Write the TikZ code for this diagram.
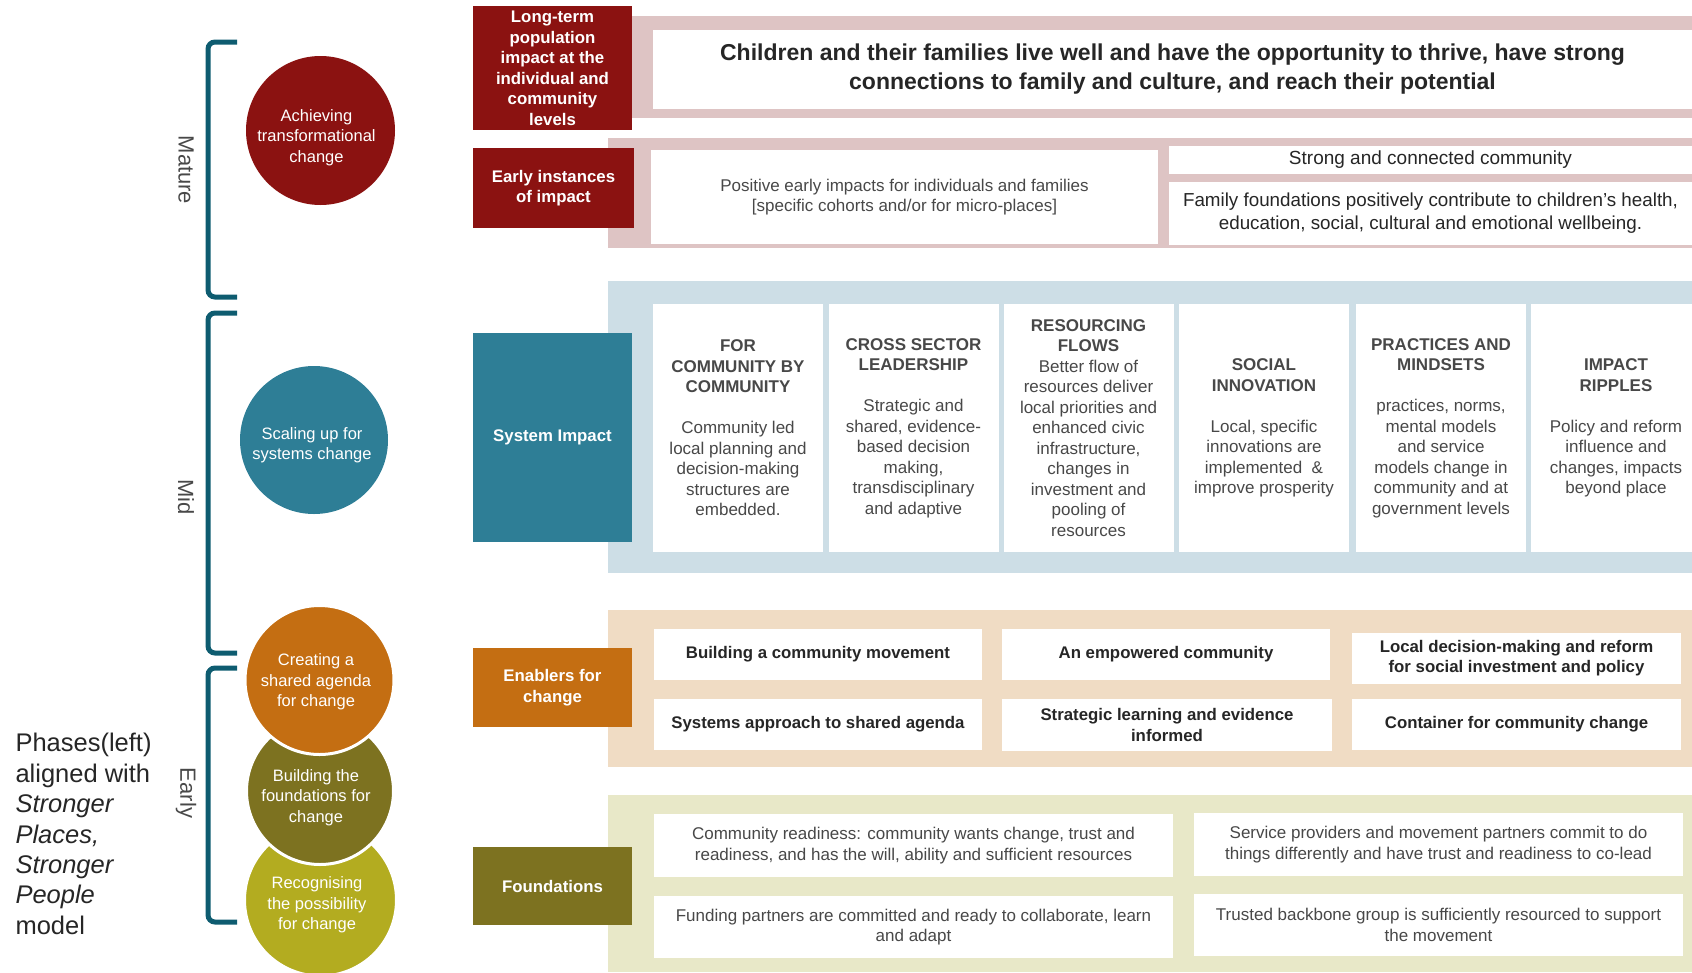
\documentclass[tikz,border=0pt]{standalone}
\usepackage{fontspec}
\setmainfont{Liberation Sans}
\usepackage{xcolor}

\definecolor{impactRed}{RGB}{139,18,17}
\definecolor{impactPink}{RGB}{222,196,196}
\definecolor{systemTeal}{RGB}{46,126,150}
\definecolor{systemBlue}{RGB}{205,222,230}
\definecolor{enableOrange}{RGB}{196,110,18}
\definecolor{enablePeach}{RGB}{240,220,196}
\definecolor{foundOlive}{RGB}{125,114,32}
\definecolor{foundGreen}{RGB}{232,232,200}
\definecolor{recogLime}{RGB}{179,172,32}
\definecolor{braceTeal}{RGB}{14,92,112}
\definecolor{bodyGray}{RGB}{72,72,72}
\definecolor{darkGray}{RGB}{38,38,38}

\begin{document}
\begin{tikzpicture}[x=1pt, y=-1pt,
		tag/.style={rectangle, fill=#1, text=white, align=center, inner sep=0pt, font=\bfseries\fontsize{16.8}{20.5}\selectfont},
		card/.style={rectangle, fill=white, text=bodyGray, align=center, inner sep=0pt, font=\fontsize{17}{20.5}\selectfont},
		boldcard/.style={card, text=darkGray, font=\bfseries\fontsize{16.8}{20.5}\selectfont},
		column/.style={card, minimum width=170pt, minimum height=248pt},
		phasetext/.style={text=white, align=center, inner sep=0pt, font=\fontsize{16.5}{20.5}\selectfont},
		brace/.style={draw=braceTeal, line width=5pt, rounded corners=7pt},
		stage/.style={rotate=-90, text=bodyGray, font=\fontsize{22}{26}\selectfont}]

			\def\xMIN{0};
			\def\xMAX{1692};
			\def\yMIN{0};
			\def\yMAX{972};
			\def\bandL{608};

			\useasboundingbox (\xMIN,\yMIN) rectangle (\xMAX,\yMAX);

			% phase brackets
			\draw [brace] (237,42) -- (208,42) -- (208,297) -- (237,297);
			\draw [brace] (237,313) -- (208,313) -- (208,653) -- (237,653);
			\draw [brace] (237,668) -- (208,668) -- (208,922) -- (237,922);
			\node [stage] (mature) at (186,170) {Mature};
			\node [stage] (mid) at (186,497) {Mid};
			\node [stage] (early) at (186,793) {Early};

			% phase circles
			\fill [impactRed] (320.5,130.5) circle (74.5);
			\fill [systemTeal] (314,440) circle (74);
			\begin{scope}[draw=white, line width=3pt]
				\filldraw [fill=recogLime] (320.5,900) circle (76);
				\filldraw [fill=foundOlive] (320,791) circle (73.5);
				\filldraw [fill=enableOrange] (319.5,680) circle (74.5);
			\end{scope}
			\node [phasetext] (achieving) at (316.5,137.5) {Achieving\\transformational\\change};
			\node [phasetext] (scaling) at (312,445) {Scaling up for\\systems change};
			\node [phasetext] (creating) at (316,682) {Creating a\\shared agenda\\for change};
			\node [phasetext] (building) at (316,797.5) {Building the\\foundations for\\change};
			\node [phasetext] (recognising) at (317,905) {Recognising\\the possibility\\for change};

			\node [anchor=west, align=left, text=darkGray, font=\fontsize{25.5}{30.4}\selectfont] (model) at (12,834)
				{Phases(left)\\aligned with\\\textit{Stronger}\\\textit{Places,}\\\textit{Stronger}\\\textit{People}\\model};

			% bands
			\begin{scope}
				\fill [impactPink] (\bandL,16) rectangle (\xMAX,118);
				\fill [impactPink] (\bandL,138) rectangle (\xMAX,248);
				\fill [systemBlue] (\bandL,281) rectangle (\xMAX,573);
				\fill [enablePeach] (\bandL,610) rectangle (\xMAX,767);
				\fill [foundGreen] (\bandL,795) rectangle (\xMAX,\yMAX);
			\end{scope}

			% row tags
			\node [tag=impactRed, minimum width=159pt, minimum height=124pt, text depth=-4pt] (longterm) at (552.5,68) {Long-term\\population\\impact at the\\individual and\\community\\levels};
			\node [tag=impactRed, minimum width=161pt, minimum height=80pt] (instances) at (553.5,188) {Early instances\\of impact};
			\node [tag=systemTeal, minimum width=159pt, minimum height=209pt] (system) at (552.5,437.5) {System Impact};
			\node [tag=enableOrange, minimum width=159pt, minimum height=79pt] (enablers) at (552.5,687.5) {Enablers for\\change};
			\node [tag=foundOlive, minimum width=159pt, minimum height=78pt] (foundations) at (552.5,886) {Foundations};

			% impact
			\node [boldcard, minimum width=1039pt, minimum height=79pt, font=\bfseries\fontsize{23}{28.5}\selectfont] (outcome) at (1172.5,69)
				{Children and their families live well and have the opportunity to thrive, have strong\\connections to family and culture, and reach their potential};
			\node [card, minimum width=507pt, minimum height=94pt] (positive) at (904.5,197)
				{Positive early impacts for individuals and families\\{[specific cohorts and/or for micro-places]}};
			\node [card, minimum width=523pt, minimum height=28pt, text=darkGray, font=\fontsize{19}{22}\selectfont] (strong) at (1430.5,160) {Strong and connected community};
			\node [card, minimum width=523pt, minimum height=63pt, text=darkGray, font=\fontsize{18.8}{22.7}\selectfont] (family) at (1430.5,213)
				{Family foundations positively contribute to children’s health,\\education, social, cultural and emotional wellbeing.};

			% system impact
			\node [column] (community) at (738,428) {\textbf{FOR}\\\textbf{COMMUNITY BY}\\\textbf{COMMUNITY}\\[20.5pt]Community led\\local planning and\\decision-making\\structures are\\embedded.};
			\node [column] (leadership) at (913.5,428) {\textbf{CROSS SECTOR}\\\textbf{LEADERSHIP}\\[20.5pt]Strategic and\\shared, evidence-\\based decision\\making,\\transdisciplinary\\and adaptive};
			\node [column] (resourcing) at (1088.5,428) {\textbf{RESOURCING}\\\textbf{FLOWS}\\Better flow of\\resources deliver\\local priorities and\\enhanced civic\\infrastructure,\\changes in\\investment and\\pooling of\\resources};
			\node [column] (innovation) at (1264,428) {\textbf{SOCIAL}\\\textbf{INNOVATION}\\[20.5pt]Local, specific\\innovations are\\implemented \ \&\\improve prosperity};
			\node [column] (mindsets) at (1441,428) {\textbf{PRACTICES AND}\\\textbf{MINDSETS}\\[20.5pt]practices, norms,\\mental models\\and service\\models change in\\community and at\\government levels};
			\node [column] (ripples) at (1616,428) {\textbf{IMPACT}\\\textbf{RIPPLES}\\[20.5pt]Policy and reform\\influence and\\changes, impacts\\beyond place};

			% enablers
			\node [boldcard, minimum width=328pt, minimum height=51pt] (movement) at (818,654.5) {Building a community movement};
			\node [boldcard, minimum width=328pt, minimum height=51pt] (empowered) at (1166,654.5) {An empowered community};
			\node [boldcard, minimum width=329pt, minimum height=51pt] (reform) at (1516.5,658) {Local decision-making and reform\\for social investment and policy};
			\node [boldcard, minimum width=328pt, minimum height=51pt] (agenda) at (818,724.5) {Systems approach to shared agenda};
			\node [boldcard, minimum width=330pt, minimum height=52pt] (learning) at (1167,725) {Strategic learning and evidence\\informed};
			\node [boldcard, minimum width=329pt, minimum height=51pt] (container) at (1516.5,724.5) {Container for community change};

			% foundations
			\node [card, minimum width=519pt, minimum height=63pt] (readiness) at (913.5,845.5)
				{Community readiness: community wants change, trust and\\readiness, and has the will, ability and sufficient resources};
			\node [card, minimum width=489pt, minimum height=63pt] (providers) at (1438.5,844.5)
				{Service providers and movement partners commit to do\\things differently and have trust and readiness to co-lead};
			\node [card, minimum width=519pt, minimum height=62pt] (funding) at (913.5,927)
				{Funding partners are committed and ready to collaborate, learn\\and adapt};
			\node [card, minimum width=489pt, minimum height=62pt] (backbone) at (1438.5,925)
				{Trusted backbone group is sufficiently resourced to support\\the movement};
		\end{tikzpicture}
\end{document}
